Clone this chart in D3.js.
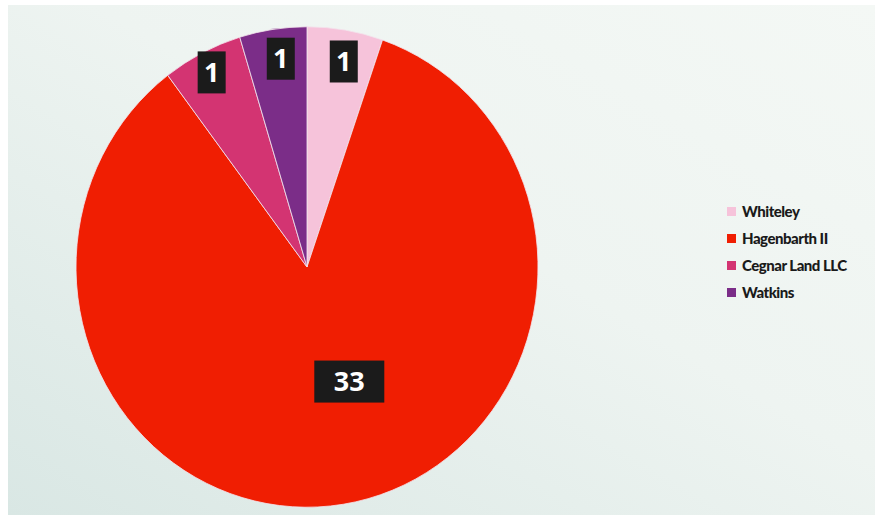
<!DOCTYPE html>
<html>
<head>
<meta charset="utf-8">
<script src="https://cdn.jsdelivr.net/npm/d3@7"></script>
<style>
  body { margin: 0; background: #fff; }
  svg { display: block; }
</style>
</head>
<body>
<svg id="chart" width="875" height="519"></svg>
<script>
const owners = ["Whiteley", "Hagenbarth II", "Cegnar Land LLC", "Watkins"];
const counts = [1, 33, 1, 1];
// slice sizes as drawn in the original (percent of the circle)
const shares = [5.3, 84.4, 5.6, 4.7];
const colors = ["#f6c3da", "#f01e02", "#d33472", "#7b2d88"];
// angular nudge (degrees) and radius for the data labels
const labelNudge = [1, -12, 0, 1];
const labelRadius = [201, 118, 210, 202];

const svg = d3.select("#chart");
const cx = 307, cy = 267, R = 231, squash = 1.04;

const defs = svg.append("defs");
const grad = defs.append("linearGradient")
    .attr("id", "bg").attr("x1", "0").attr("y1", "1").attr("x2", "1").attr("y2", "0");
grad.append("stop").attr("offset", "0").attr("stop-color", "#d9e7e4");
grad.append("stop").attr("offset", "0.55").attr("stop-color", "#eef4f1");
grad.append("stop").attr("offset", "1").attr("stop-color", "#f4f8f5");

svg.append("rect")
    .attr("x", 8).attr("y", 5).attr("width", 867).attr("height", 510)
    .attr("fill", "url(#bg)");

const pie = d3.pie().sort(null).value((d, i) => shares[i])(counts);
const arc = d3.arc().innerRadius(0).outerRadius(R);

const g = svg.append("g")
    .attr("transform", `translate(${cx},${cy}) scale(1,${squash})`);

g.selectAll("path")
    .data(pie).enter()
    .append("path")
    .attr("d", arc)
    .attr("fill", (d, i) => colors[i])
    .attr("stroke", "#f3e4ec")
    .attr("stroke-width", 0.8);

const labels = svg.selectAll(".lbl")
    .data(pie).enter()
    .append("g")
    .attr("class", "lbl")
    .attr("transform", (d, i) => {
        const a = (d.startAngle + d.endAngle) / 2 + labelNudge[i] * Math.PI / 180;
        const r = labelRadius[i];
        return `translate(${cx + r * Math.sin(a)},${cy - r * Math.cos(a) * squash})`;
    });

const boxW = d => String(d.data).length * 42 - 14;

labels.append("rect")
    .attr("x", d => -boxW(d) / 2)
    .attr("y", -21)
    .attr("width", boxW)
    .attr("height", 42)
    .attr("fill", "#1b1b1b");

labels.append("text")
    .attr("text-anchor", "middle")
    .attr("dy", "0.36em")
    .attr("fill", "#fff")
    .style("font-family", "'Open Sans', sans-serif")
    .style("font-weight", "bold")
    .style("font-size", "27px")
    .text(d => d.data);

const legend = svg.append("g").attr("transform", "translate(727,212)");
const items = legend.selectAll("g")
    .data(owners).enter()
    .append("g")
    .attr("transform", (d, i) => `translate(0,${i * 27})`);

items.append("rect")
    .attr("x", 0).attr("y", -5)
    .attr("width", 9).attr("height", 9)
    .attr("fill", (d, i) => colors[i]);

items.append("text")
    .attr("x", 15)
    .attr("dy", "0.35em")
    .attr("fill", "#1a1a1a")
    .style("font-family", "Lato, sans-serif")
    .style("font-weight", "900")
    .style("font-size", "15px")
    .style("letter-spacing", "-0.5px")
    .text(d => d);
</script>
</body>
</html>
